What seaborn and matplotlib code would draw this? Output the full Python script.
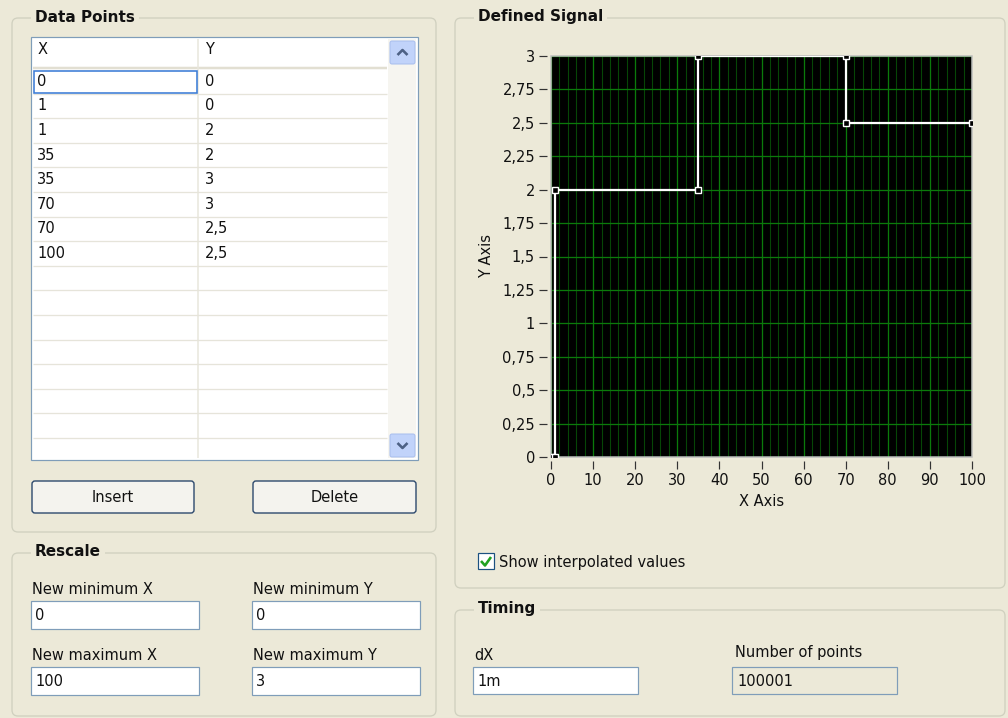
import matplotlib
matplotlib.use("Agg")
import matplotlib.pyplot as plt
from matplotlib.patches import Rectangle, FancyBboxPatch
from matplotlib.ticker import FixedLocator, MultipleLocator, FixedFormatter
import seaborn as sns
import pandas as pd

# ---------------- data ----------------
x_points = [0, 1, 1, 35, 35, 70, 70, 100]
y_points = [0, 0, 2, 2, 3, 3, 2.5, 2.5]
x_cell_labels = ["0", "1", "1", "35", "35", "70", "70", "100"]
y_cell_labels = ["0", "0", "2", "2", "3", "3", "2,5", "2,5"]
x_ticks = [0, 10, 20, 30, 40, 50, 60, 70, 80, 90, 100]
x_tick_labels = ["0", "10", "20", "30", "40", "50", "60", "70", "80", "90", "100"]
y_ticks = [0, 0.25, 0.5, 0.75, 1, 1.25, 1.5, 1.75, 2, 2.25, 2.5, 2.75, 3]
y_tick_labels = ["0", "0,25", "0,5", "0,75", "1", "1,25", "1,5", "1,75", "2",
                 "2,25", "2,5", "2,75", "3"]
rescale_values = ["0", "0", "100", "3"]
dx_value = "1m"
n_points_value = "100001"

# ---------------- style ----------------
plt.rcParams["font.family"] = ["DejaVu Sans"]
plt.rcParams["font.size"] = 10.5
BG = "#ECE9D8"
TXT = "#111111"
PX = 0.72  # points per pixel at 100 dpi

fig = plt.figure(figsize=(10.08, 7.18), dpi=100, facecolor=BG)
g = fig.add_axes([0, 0, 1, 1], zorder=0)
g.set_xlim(0, 1008)
g.set_ylim(718, 0)
g.axis("off")


def rect(x0, y0, x1, y1, fc, ec, lw=1, z=1):
    g.add_patch(Rectangle((x0, y0), x1 - x0, y1 - y0, fc=fc, ec=ec,
                          lw=lw * PX, zorder=z))


def rrect(x0, y0, x1, y1, fc, ec, r=4, lw=1, z=1):
    g.add_patch(FancyBboxPatch((x0, y0), x1 - x0, y1 - y0,
                               boxstyle=f"round,pad=0,rounding_size={r}",
                               fc=fc, ec=ec, lw=lw * PX, zorder=z))


def line(xs, ys, c, lw=1, z=2):
    g.plot(xs, ys, color=c, lw=lw * PX, zorder=z, solid_capstyle="butt")


def label(x, y, s, **kw):
    g.text(x, y, s, ha=kw.pop("ha", "left"), va=kw.pop("va", "center"),
           color=TXT, zorder=5, **kw)


def group(x0, y0, x1, y1, title, tx):
    rrect(x0, y0, x1, y1, "none", "#D0D0BF", r=6, lw=1.3)
    g.text(tx, y0 - 1, title, fontweight="bold", ha="left", va="center",
           color=TXT, zorder=5, fontsize=11,
           bbox=dict(fc=BG, ec="none", pad=3))


# ---------------- Data Points group ----------------
group(12, 18, 436, 532, "Data Points", 35)
rect(31, 37, 418, 460, "white", "#7F9DB9", lw=1.2)
# header
label(38, 50, "X")
label(205, 50, "Y")
line([33, 387], [68, 68], "#E2DFD2", lw=2.5)
line([198, 198], [39, 458], "#E8E6DC", lw=1.5)
row_h = 24.6
row0 = 69
k = 1
while row0 + k * row_h < 457:
    yy = row0 + k * row_h
    line([33, 387], [yy, yy], "#E6E4DA", lw=1.3)
    k += 1
for i, (xs, ys) in enumerate(zip(x_cell_labels, y_cell_labels)):
    yc = row0 + row_h * i + row_h / 2
    label(37, yc, xs)
    label(205, yc, ys)
rect(34, 71, 197, 93, "none", "#3D7DD6", lw=1.6, z=3)
# scrollbar
rect(388, 39, 416, 458, "#F6F5F0", "none", z=2)
rrect(390, 41, 415, 64, "#C1D3FA", "#A8BEEE", r=2, z=3)
rrect(390, 434, 415, 457, "#C1D3FA", "#A8BEEE", r=2, z=3)
line([397.5, 402.5, 407.5], [55, 50, 55], "#4D6185", lw=2.6, z=4)
line([397.5, 402.5, 407.5], [443, 448, 443], "#4D6185", lw=2.6, z=4)
# buttons
rrect(32, 481, 194, 513, "#F4F3EE", "#2E4A6E", r=3, lw=1.4)
rrect(253, 481, 416, 513, "#F4F3EE", "#2E4A6E", r=3, lw=1.4)
label(113, 498, "Insert", ha="center")
label(334.5, 498, "Delete", ha="center")

# ---------------- Rescale group ----------------
group(12, 553, 436, 716, "Rescale", 35)
label(32, 589, "New minimum X")
label(253, 589, "New minimum Y")
label(32, 655, "New maximum X")
label(253, 655, "New maximum Y")
boxes = [(31, 601), (252, 601), (31, 667), (252, 667)]
for (bx, by), val in zip(boxes, rescale_values):
    rect(bx, by, bx + 168, by + 28, "white", "#7F9DB9", lw=1.2)
    label(bx + 4, by + 14.5, val)

# ---------------- Defined Signal group ----------------
group(455, 18, 1005, 588, "Defined Signal", 478)
rect(478, 553, 494, 569, "white", "#1C5180", lw=1.2)
line([481, 485, 491], [561, 565.5, 557], "#21A121", lw=2.6, z=4)
label(499, 562, "Show interpolated values")

# ---------------- Timing group ----------------
group(455, 610, 1005, 716, "Timing", 478)
label(474, 655, "dX")
rect(473, 667, 638, 694, "white", "#7F9DB9", lw=1.2)
label(477, 681, dx_value)
label(735, 653, "Number of points")
rect(732, 667, 897, 694, BG, "#7F9DB9", lw=1.2)
label(737, 681, n_points_value)

# ---------------- graph ----------------
ax = fig.add_axes([551 / 1008, (718 - 457) / 718, 421 / 1008, 401 / 718], zorder=2)
ax.set_facecolor("black")
df = pd.DataFrame({"X": x_points, "Y": y_points})
sns.lineplot(data=df, x="X", y="Y", ax=ax, sort=False, estimator=None,
             color="white", lw=1.6, marker="s", markersize=5,
             markerfacecolor="black", markeredgecolor="white",
             markeredgewidth=1.0, zorder=5, legend=False)
ax.set_xlim(0, 100)
ax.set_ylim(0, 3)
ax.xaxis.set_major_locator(FixedLocator(x_ticks))
ax.xaxis.set_major_formatter(FixedFormatter(x_tick_labels))
ax.xaxis.set_minor_locator(MultipleLocator(2))
ax.yaxis.set_major_locator(FixedLocator(y_ticks))
ax.yaxis.set_major_formatter(FixedFormatter(y_tick_labels))
ax.grid(which="major", axis="x", color="#0B7A0B", lw=1.3 * PX, zorder=0)
ax.grid(which="major", axis="y", color="#0B7A0B", lw=1.3 * PX, zorder=0)
ax.grid(which="minor", axis="x", color="#064606", lw=1.1 * PX, zorder=0)
ax.set_axisbelow(True)
for s in ax.spines.values():
    s.set_visible(False)
ax.spines["left"].set_position(("outward", 3))
ax.spines["bottom"].set_position(("outward", 3))
ax.add_patch(Rectangle((0, 0), 1, 1, transform=ax.transAxes, fill=False,
                       ec="#BDBDBD", lw=1.5 * PX, clip_on=False, zorder=3))
ax.tick_params(which="major", direction="out", length=6, width=1.2 * PX,
               color="#333333", labelcolor=TXT, labelsize=10.5, pad=2.5)
ax.tick_params(which="minor", length=0)
ax.set_xlabel("X Axis", color=TXT, va="center")
ax.set_ylabel("Y Axis", color=TXT, va="center")
ax.xaxis.set_label_coords(0.5, -45 / 401)
ax.yaxis.set_label_coords((487 - 551) / 421, 0.5)

fig.savefig("out.png", dpi=100, facecolor=BG)
